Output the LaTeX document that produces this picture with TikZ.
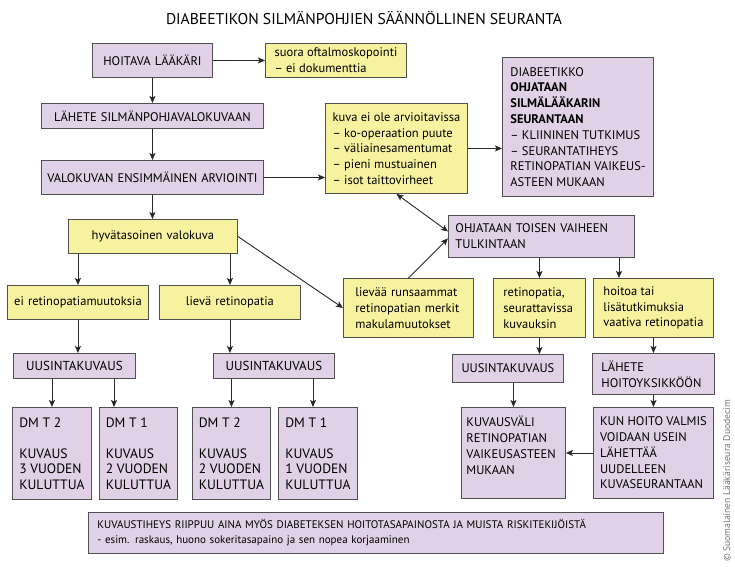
\documentclass[tikz,border=0pt]{standalone}
\usepackage{fontspec}
\setmainfont{PT Sans}
\usetikzlibrary{arrows.meta,calc}
\definecolor{pu}{RGB}{225,209,230}
\definecolor{ye}{RGB}{247,242,160}
\definecolor{bd}{RGB}{80,80,80}
\definecolor{ar}{RGB}{40,40,40}
\newcommand{\bodyfont}{\fontsize{12.5}{15.8}\selectfont}
\newcommand{\dmfont}{\fontsize{13.6}{15.6}\selectfont}
\tikzset{
  base/.style={draw=bd, line width=0.9pt, inner sep=0pt, anchor=north west, font=\bodyfont},
  pbox/.style={base, fill=pu},
  ybox/.style={base, fill=ye},
  arr/.style={-{Stealth[length=7pt,width=6pt,inset=1.5pt]}, line width=0.9pt, draw=ar},
  darr/.style={{Stealth[length=7pt,width=6pt,inset=1.5pt]}-{Stealth[length=7pt,width=6pt,inset=1.5pt]}, line width=0.9pt, draw=ar},
  dmbox/.style={pbox, minimum width=78pt, minimum height=92pt, align=left, font=\dmfont},
}
\begin{document}
\begin{tikzpicture}[x=1pt,y=-1pt]
\useasboundingbox (0,0) rectangle (735,566);
\node[font=\fontsize{15.6}{18}\selectfont] (title) at (364,18) {DIABEETIKON SILMÄNPOHJIEN SÄÄNNÖLLINEN SEURANTA};

\node[pbox, minimum width=120pt, minimum height=34pt, text width=116pt, align=center] (hoit) at (92,43) {HOITAVA LÄÄKÄRI};
\node[ybox, minimum width=141pt, minimum height=34pt, align=left] (suora) at (265,43) {suora oftalmoskopointi\\– ei dokumenttia};
\node[pbox, minimum width=222pt, minimum height=25pt, text width=218pt, align=center] (lah) at (41,103) {LÄHETE SILMÄNPOHJAVALOKUVAAN};
\node[pbox, minimum width=222pt, minimum height=34pt, text width=218pt, align=center] (val) at (41,160) {VALOKUVAN ENSIMMÄINEN ARVIOINTI};
\node[ybox, minimum width=142pt, minimum height=90pt, align=left] (kuva) at (325,103) {kuva ei ole arvioitavissa\\– ko-operaation puute\\– väliainesamentumat\\– pieni mustuainen\\– isot taittovirheet};
\node[pbox, minimum width=151pt, minimum height=139pt, align=left] (diab) at (502,57) {DIABEETIKKO\\\textbf{OHJATAAN}\\\textbf{SILMÄLÄÄKARIN}\\\textbf{SEURANTAAN}\\– KLIININEN TUTKIMUS\\– SEURANTATIHEYS\\RETINOPATIAN VAIKEUS-\\ASTEEN MUKAAN};
\node[ybox, minimum width=169pt, minimum height=34pt, text width=165pt, align=center] (hyv) at (68,219) {hyvätasoinen valokuva};
\node[ybox, minimum width=141pt, minimum height=34pt, text width=139pt, align=center] (eiret) at (7,285) {ei retinopatiamuutoksia};
\node[ybox, minimum width=141pt, minimum height=34pt, text width=137pt, align=center] (liev) at (159,285) {lievä retinopatia};
\node[pbox, minimum width=122pt, minimum height=25pt, text width=118pt, align=center, font=\fontsize{13}{15.8}\selectfont] (uus1) at (13,353) {UUSINTAKUVAUS};
\node[pbox, minimum width=121pt, minimum height=25pt, text width=117pt, align=center, font=\fontsize{13}{15.8}\selectfont] (uus2) at (213,353) {UUSINTAKUVAUS};
\node[dmbox, minimum width=79pt] (dm1) at (12,407) {DM T 2\\[15.6pt]KUVAUS\\3 VUODEN\\KULUTTUA};
\node[dmbox] (dm2) at (99,407) {DM T 1\\[15.6pt]KUVAUS\\2 VUODEN\\KULUTTUA};
\node[dmbox] (dm3) at (192,407) {DM T 2\\[15.6pt]KUVAUS\\2 VUODEN\\KULUTTUA};
\node[dmbox, minimum width=79pt] (dm4) at (278,407) {DM T 1\\[15.6pt]KUVAUS\\1 VUODEN\\KULUTTUA};
\node[pbox, minimum width=575pt, minimum height=41pt, text width=557pt, align=left, font=\fontsize{11}{15}\selectfont] (bot) at (88,512) {KUVAUSTIHEYS RIIPPUU AINA MYÖS DIABETEKSEN HOITOTASAPAINOSTA JA MUISTA RISKITEKIJÖISTÄ\\- esim. raskaus, huono sokeritasapaino ja sen nopea korjaaminen};
\node[ybox, minimum width=130pt, minimum height=59pt, text width=106pt, align=left] (lieva) at (343,278) {lievää runsaammat\\retinopatian merkit\\makulamuutokset};
\node[pbox, minimum width=186pt, minimum height=42pt, text width=172pt, align=left] (ohj) at (448,215) {OHJATAAN TOISEN VAIHEEN\\TULKINTAAN};
\node[ybox, minimum width=92pt, minimum height=59pt, text width=72pt, align=left] (ret) at (493,278) {retinopatia,\\seurattavissa\\kuvauksin};
\node[ybox, minimum width=120pt, minimum height=59pt, align=left] (hoi) at (593,278) {hoitoa tai\\lisätutkimuksia\\vaativa retinopatia};
\node[pbox, minimum width=111pt, minimum height=28pt, text width=107pt, align=center] (uus3) at (452,354) {UUSINTAKUVAUS};
\node[pbox, minimum width=122pt, minimum height=41pt, text width=104pt, align=left] (lhy) at (592,353) {LÄHETE\\HOITOYKSIKKÖÖN};
\node[pbox, minimum width=104pt, minimum height=91pt, text width=94pt, align=left] (kuvv) at (461,407) {KUVAUSVÄLI\\RETINOPATIAN\\VAIKEUSASTEEN\\MUKAAN\\\mbox{}};
\node[pbox, minimum width=120pt, minimum height=91pt, align=left] (kun) at (593,407) {KUN HOITO VALMIS\\VOIDAAN USEIN\\LÄHETTÄÄ\\UUDELLEEN\\KUVASEURANTAAN};

\node[rotate=90, font=\fontsize{9.6}{11}\selectfont, text=black!55] (copy) at (727,481) {© Suomalainen Lääkäriseura Duodecim};

\coordinate (d2t) at ($(dm2.north west)+(15,0)$);
\coordinate (d4t) at ($(dm4.north west)+(35,0)$);
\coordinate (hoit2) at ($(hoi.north west)+(26,0)$);

\draw[arr] (hoit.east) -- (hoit.east -| suora.west);
\draw[arr] (hoit.south) -- (hoit.south |- lah.north);
\draw[arr] (lah.south) -- (lah.south |- val.north);
\draw[arr] (val.east) -- (val.east -| kuva.west);
\draw[arr] (val.south) -- (val.south |- hyv.north);
\draw[arr] (kuva.east) -- (kuva.east -| diab.west);
\draw[darr] (kuva.south) -- ($(ohj.west)+(0,-5)$);
\draw[arr] (lieva.north) -- ($(ohj.west)+(0,2)$);
\draw[arr] (hyv.east) -- (lieva.west);
\draw[arr] (eiret.north |- hyv.south) -- (eiret.north);
\draw[arr] (liev.north |- hyv.south) -- (liev.north);
\draw[arr] (eiret.south) -- (eiret.south |- uus1.north);
\draw[arr] (liev.south) -- (liev.south |- uus2.north);
\draw[arr] (dm1.north |- uus1.south) -- (dm1.north);
\draw[arr] (d2t |- uus1.south) -- (d2t);
\draw[arr] (dm3.north |- uus2.south) -- (dm3.north);
\draw[arr] (d4t |- uus2.south) -- (d4t);
\draw[arr] (ret.north |- ohj.south) -- (ret.north);
\draw[arr] (hoit2 |- ohj.south) -- (hoit2);
\draw[arr] (ret.south) -- (ret.south |- uus3.north);
\draw[arr] (hoi.south) -- (hoi.south |- lhy.north);
\draw[arr] (kuvv.north |- uus3.south) -- (kuvv.north);
\draw[arr] (lhy.south) -- (lhy.south |- kun.north);
\draw[arr] (kun.west |- kuvv.east) -- (kuvv.east);
\end{tikzpicture}
\end{document}
